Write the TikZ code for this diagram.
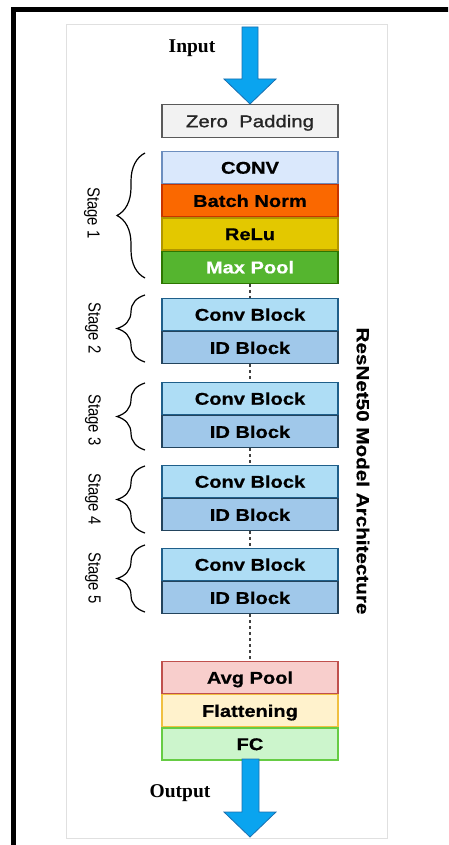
\documentclass[tikz,border=0pt]{standalone}
\usepackage{fontspec}
\setmainfont{Liberation Sans}
\newfontfamily\boxfont[FakeStretch=1.18,FakeBold=0.6]{Liberation Sans}
\newfontfamily\zpfont[FakeStretch=1.2,FakeBold=1.2]{Liberation Sans}
\newfontfamily\stagefont[FakeStretch=0.85]{Liberation Sans}
\newfontfamily\serifb{Liberation Serif}
\usetikzlibrary{decorations.pathreplacing}
\definecolor{zpfill}{HTML}{F2F2F2}\definecolor{zpdraw}{HTML}{5A5A5A}
\definecolor{convfill}{HTML}{DAE8FC}\definecolor{convdraw}{HTML}{6C8EBF}
\definecolor{bnfill}{HTML}{FA6800}\definecolor{bndraw}{HTML}{C73500}
\definecolor{relufill}{HTML}{E3C800}\definecolor{reludraw}{HTML}{B09500}
\definecolor{mpfill}{HTML}{55B52F}\definecolor{mpdraw}{HTML}{2D7600}
\definecolor{cbfill}{HTML}{AEDDF5}\definecolor{cbdraw}{HTML}{1F5F8A}
\definecolor{idfill}{HTML}{A0C8EA}\definecolor{iddraw}{HTML}{23445D}
\definecolor{apfill}{HTML}{F8CECC}\definecolor{apdraw}{HTML}{C0504D}
\definecolor{flfill}{HTML}{FFF2CC}\definecolor{fldraw}{HTML}{F0C040}
\definecolor{fcfill}{HTML}{CCF5CC}\definecolor{fcdraw}{HTML}{66CC44}
\definecolor{arrfill}{HTML}{0AA4EF}\definecolor{arrdraw}{HTML}{1A6FB0}
\begin{document}
\begin{tikzpicture}[x=1pt,y=-1pt,
  blk/.style={draw, line width=1.2pt, minimum width=176pt, minimum height=32pt,
    inner sep=0pt, text height=12.2pt, text depth=0pt, anchor=north,
    font=\boxfont\bfseries\fontsize{17pt}{17pt}\selectfont},
  bigarrow/.style={fill=arrfill, draw=arrdraw, line width=0.8pt, line join=miter},
  dashline/.style={draw=black!75, line width=1.5pt, dash pattern=on 3pt off 3pt},
  stagebrace/.style={decorate, decoration={brace, amplitude=28pt}, line width=1.2pt},
  stagelbl/.style={rotate=-90, font=\stagefont\fontsize{17.5pt}{17.5pt}\selectfont},
  iolbl/.style={font=\serifb\bfseries\fontsize{19.5pt}{19.5pt}\selectfont}]
\useasboundingbox (0,0) rectangle (448,845);
\clip (0,0) rectangle (448,845);
\fill[white] (0,0) rectangle (448,845);
% frame
\draw[line width=5pt] (13.5,880) -- (13.5,9.5) -- (480,9.5);
\draw[black!12, line width=1pt] (66,25) rectangle (387,838);
% input
\node[iolbl] (inlbl) at (192,48) {Input};
\node[blk, fill=zpfill, draw=zpdraw, minimum height=33pt, text=black!85,
  font=\zpfont\fontsize{17pt}{17pt}\selectfont] (zp) at (250,104) {Zero\ \ Padding};
\path[bigarrow] (258,27) -- (258,79) -- (276,79) -- (zp.north) -- (224,79) -- (242,79) -- (242,27) -- cycle;
% stage 1
\node[blk, fill=convfill, draw=convdraw] (conv) at (250,151) {CONV};
\node[blk, fill=bnfill, draw=bndraw] (bn) at (conv.south) {Batch Norm};
\node[blk, fill=relufill, draw=reludraw] (relu) at (bn.south) {ReLu};
\node[blk, fill=mpfill, draw=mpdraw, text=white] (mp) at (relu.south) {Max Pool};
% stages 2-5
\node[blk, fill=cbfill, draw=cbdraw] (cb2) at (250,298) {Conv Block};
\node[blk, fill=idfill, draw=iddraw] (id2) at (cb2.south) {ID Block};
\node[blk, fill=cbfill, draw=cbdraw] (cb3) at (250,382) {Conv Block};
\node[blk, fill=idfill, draw=iddraw] (id3) at (cb3.south) {ID Block};
\node[blk, fill=cbfill, draw=cbdraw] (cb4) at (250,465) {Conv Block};
\node[blk, fill=idfill, draw=iddraw] (id4) at (cb4.south) {ID Block};
\node[blk, fill=cbfill, draw=cbdraw] (cb5) at (250,548) {Conv Block};
\node[blk, fill=idfill, draw=iddraw] (id5) at (cb5.south) {ID Block};
% head
\node[blk, fill=apfill, draw=apdraw] (ap) at (250,661) {Avg Pool};
\node[blk, fill=flfill, draw=fldraw] (fl) at (ap.south) {Flattening};
\node[blk, fill=fcfill, draw=fcdraw] (fc) at (fl.south) {FC};
% dashed links
\draw[dashline] (mp.south) -- (cb2.north);
\draw[dashline] (id2.south) -- (cb3.north);
\draw[dashline] (id3.south) -- (cb4.north);
\draw[dashline] (id4.south) -- (cb5.north);
\draw[dashline] (id5.south) -- (ap.north);
% output
\path[bigarrow] (242,759) -- (242,812) -- (224,812) -- (250,837) -- (276,812) -- (259,812) -- (259,759) -- cycle;
\node[iolbl] (outlbl) at (180,793) {Output};
% braces and stage labels
\draw[stagebrace] (145,278) -- (145,153);
\draw[stagebrace] (145,362) -- (145,295);
\draw[stagebrace] (145,450) -- (145,383);
\draw[stagebrace] (145,533) -- (145,466);
\draw[stagebrace] (145,612) -- (145,545);
\node[stagelbl] (s1) at (92,213) {Stage 1};
\node[stagelbl] (s2) at (93,328) {Stage 2};
\node[stagelbl] (s3) at (93,420) {Stage 3};
\node[stagelbl] (s4) at (93,499) {Stage 4};
\node[stagelbl] (s5) at (93,578) {Stage 5};
% title
\node[rotate=-90, font=\boxfont\bfseries\fontsize{17.5pt}{17.5pt}\selectfont] (title) at (363,471) {ResNet50 Model Architecture};
\end{tikzpicture}
\end{document}
